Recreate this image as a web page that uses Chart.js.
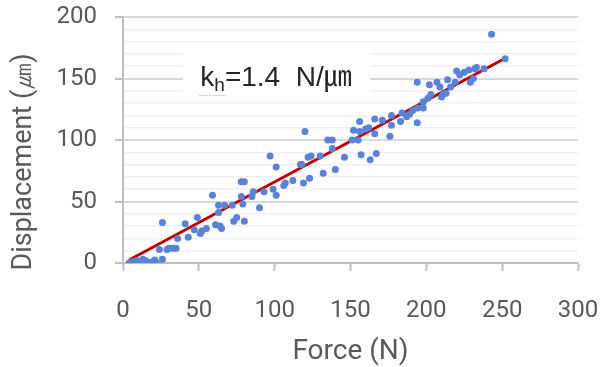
<!DOCTYPE html>
<html>
<head>
<meta charset="utf-8">
<script src="https://cdn.jsdelivr.net/npm/chart.js@4.4.0/dist/chart.umd.min.js"></script>
<style>
  html, body { margin: 0; padding: 0; background: #fff; }
</style>
</head>
<body>
<canvas id="chart" width="608" height="367"></canvas>
<script>
  // force (N) vs displacement (um)
  const forceN = [4, 6, 8, 9, 10.5, 13, 14.5, 16, 20, 21, 22, 26, 26, 24, 29, 30, 32, 34, 35, 36,
    41, 43, 47, 49, 51, 52, 55, 59, 61, 64, 65, 63, 63, 67, 72, 73, 75, 78, 78, 80,
    79, 80, 85, 86, 90, 93, 97, 99, 101, 101, 106, 107, 112, 119, 117, 118, 120, 123, 122, 124,
    130, 132, 135, 138, 138, 140, 146, 151, 152, 155, 156, 156, 157, 160, 162, 163, 166, 166, 167, 171,
    176, 177, 177, 183, 184, 187, 189, 191, 194, 194, 194, 198, 198, 201, 202, 203, 207, 209, 210, 211,
    213, 214, 216, 219, 220, 222, 225, 228, 229, 231, 232, 233, 238, 243, 252];
  const displacementUm = [0, 1, 1, 2, 1, 3, 2, 1, 1.5, 2.5, 0, 3, 33, 11, 11, 12, 12, 12, 12, 20,
    32, 21, 27, 37, 24, 26, 28, 55, 31, 30, 28, 41, 47, 47, 47, 34, 37, 54, 66, 66,
    48, 34, 54, 58, 45, 58, 87, 60, 55, 78, 63, 65, 67, 65, 80, 80, 107, 69, 86, 87,
    87, 73, 100, 100, 93, 76, 86, 100, 108, 100, 115, 107, 88, 109, 110, 84, 105, 117, 89, 116,
    103, 120, 112, 115, 122, 119, 121, 124, 114, 126, 147, 126, 131, 134, 145, 137, 147, 143, 135, 137,
    138, 149, 143, 147, 156, 153, 155, 157, 147, 150, 158, 159, 158, 186, 166];

  // linear fit end points
  const trendForce = [4, 252];
  const trendDisp = [2.4, 166.5];

  const xTitle = 'Force (N)';
  const yTitle = 'Displacement (\u339B)';

  const grey = '#595959';
  const axisGrey = '#bfbfbf';

  const points = forceN.map((f, i) => ({ x: f, y: displacementUm[i] }));
  const trend = trendForce.map((f, i) => ({ x: f, y: trendDisp[i] }));

  // white label box with the stiffness note, plus the rotated y title
  const notePlugin = {
    id: 'note',
    beforeDatasetsDraw(chart) {
      const { ctx, scales: { x, y } } = chart;
      ctx.save();
      ctx.fillStyle = '#ffffff';
      const left = x.getPixelForValue(39.5), right = x.getPixelForValue(163);
      const top = y.getPixelForValue(176), bottom = y.getPixelForValue(135);
      ctx.fillRect(left, top, right - left, bottom - top);
      ctx.restore();
    },
    afterDraw(chart) {
      const { ctx, scales: { x, y } } = chart;
      ctx.save();
      let px = x.getPixelForValue(51);
      const base = y.getPixelForValue(144);
      ctx.fillStyle = '#262626';
      ctx.textBaseline = 'alphabetic';
      ctx.font = '28px "Liberation Sans"';
      ctx.fillText('k', px, base);
      px += ctx.measureText('k').width;
      const hx = px;
      ctx.font = '19px "Liberation Sans"';
      ctx.fillText('h', px, base + 5);
      px += ctx.measureText('h').width;
      // spell-check squiggle under k_h
      ctx.strokeStyle = '#e0a040';
      ctx.lineWidth = 1;
      ctx.setLineDash([1, 1]);
      ctx.beginPath();
      ctx.moveTo(hx - 15, base + 9.5);
      ctx.lineTo(px + 1, base + 9.5);
      ctx.stroke();
      ctx.setLineDash([]);
      ctx.font = '28px "Liberation Sans"';
      ctx.fillText('=1.4  N/', px, base);
      px += ctx.measureText('=1.4  N/').width;
      ctx.font = '28px "Noto Sans CJK JP"';
      ctx.fillText('\u339B', px, base);

      // y axis title
      ctx.fillStyle = grey;
      ctx.font = '27px Roboto';
      ctx.textAlign = 'center';
      ctx.textBaseline = 'middle';
      ctx.translate(24, 162);
      ctx.rotate(-Math.PI / 2);
      ctx.fillText(yTitle, 0, 0);
      ctx.restore();
    }
  };

  new Chart(document.getElementById('chart'), {
    type: 'scatter',
    data: {
      datasets: [
        {
          label: 'measured',
          data: points,
          backgroundColor: '#5b82d9',
          borderColor: '#5b82d9',
          pointRadius: 3.5,
          borderWidth: 0
        },
        {
          type: 'line',
          label: 'fit',
          data: trend,
          borderColor: '#c00000',
          borderWidth: 3,
          pointRadius: 0,
          fill: false
        }
      ]
    },
    options: {
      responsive: false,
      animation: false,
      layout: { padding: { top: 17, right: 30, bottom: 0, left: 0 } },
      plugins: {
        legend: { display: false },
        tooltip: { enabled: false }
      },
      scales: {
        x: {
          type: 'linear',
          min: 0,
          max: 300,
          afterFit(scale) {
            scale.height = 104;
            scale.paddingLeft = 0;
            scale.paddingRight = 0;
          },
          ticks: {
            stepSize: 50,
            color: grey,
            font: { family: 'Roboto', size: 24 },
            padding: 26,
            maxRotation: 0
          },
          grid: {
            drawOnChartArea: false,
            tickLength: 8,
            tickColor: axisGrey,
            tickWidth: 2
          },
          border: { color: axisGrey, width: 2 },
          title: {
            display: true,
            text: xTitle,
            color: grey,
            font: { family: 'Roboto', size: 28 },
            padding: { top: 0, bottom: -2 }
          }
        },
        y: {
          min: 0,
          max: 200,
          afterFit(scale) {
            scale.width = 123;
            scale.paddingTop = 0;
            scale.paddingBottom = 0;
          },
          ticks: {
            stepSize: 10,
            autoSkip: false,
            color: grey,
            font: { family: 'Roboto', size: 24 },
            padding: 18,
            callback: v => (v % 50 === 0 ? v : '')
          },
          grid: {
            tickLength: 8,
            lineWidth: ctx => (ctx.tick && ctx.tick.value % 50 === 0 ? 2 : 1.5),
            color: ctx => (ctx.tick && ctx.tick.value % 50 === 0 ? '#d9d9d9' : '#f0f0f0'),
            tickColor: ctx => (ctx.tick && ctx.tick.value % 50 === 0 ? axisGrey : 'rgba(0,0,0,0)'),
            tickWidth: 2
          },
          border: { color: axisGrey, width: 2 }
        }
      }
    },
    plugins: [notePlugin]
  });
</script>
</body>
</html>
